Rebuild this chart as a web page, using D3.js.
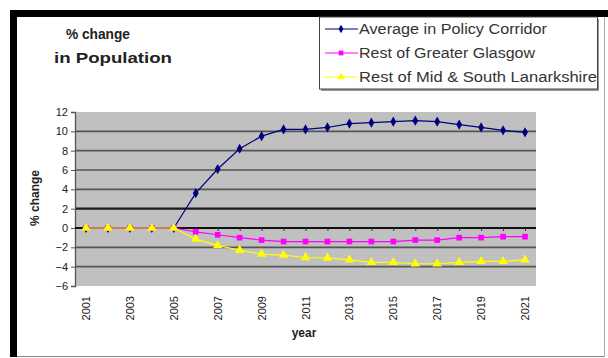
<!DOCTYPE html>
<html><head><meta charset="utf-8">
<script src="https://cdn.jsdelivr.net/npm/d3@7"></script>
<style>body{margin:0;background:#fff}svg{display:block;font-family:"Liberation Sans",Arial,sans-serif}</style>
</head><body><svg id="c" width="608" height="358"></svg>
<script>
const years = d3.range(2001, 2022).map(String);
const tickYears = ["2001","2003","2005","2007","2009","2011","2013","2015","2017","2019","2021"];
const yTicks = [12,10,8,6,4,2,0,-2,-4,-6];
const seriesNames = ["Average in Policy Corridor","Rest of Greater Glasgow","Rest of Mid & South Lanarkshire"];
const policyCorridor = [0,0,0,0,0,3.6,6.1,8.2,9.5,10.2,10.2,10.4,10.8,10.9,11.0,11.1,11.0,10.7,10.4,10.1,9.9];
const restGlasgow = [0,0,0,0,0,-0.4,-0.7,-1.0,-1.25,-1.4,-1.4,-1.4,-1.4,-1.4,-1.4,-1.25,-1.25,-1.0,-1.0,-0.9,-0.9];
const restLanark = [0,0,0,0,0,-1.15,-1.8,-2.3,-2.7,-2.8,-3.05,-3.1,-3.3,-3.55,-3.55,-3.7,-3.7,-3.55,-3.45,-3.45,-3.3];
const colors = ["#000080","#ff00ff","#ffff00"];
const symbols = [d3.symbolDiamond, d3.symbolSquare, d3.symbolTriangle];
const symSizes = [30, 32, 38];
const allSeries = [policyCorridor, restGlasgow, restLanark];

const svg = d3.select("#c");
// frame
svg.append("rect").attr("x",17).attr("y",17).attr("width",587).attr("height",339).attr("fill","#fff");
svg.append("rect").attr("x",10).attr("y",10).attr("width",598).attr("height",7).attr("fill","#000");
svg.append("rect").attr("x",10).attr("y",10).attr("width",7).attr("height",347).attr("fill","#000");
svg.append("line").attr("x1",17).attr("x2",605).attr("y1",356.5).attr("y2",356.5).attr("stroke","#888");
svg.append("line").attr("x1",604.5).attr("x2",604.5).attr("y1",17).attr("y2",357).attr("stroke","#aaa");

const L = 75, R = 536, T = 112, B = 286;
const x = d3.scalePoint().domain(years).range([L, R]).padding(0.5);
const y = d3.scaleLinear().domain([-6, 12]).range([B, T]);

svg.append("rect").attr("x",L).attr("y",T).attr("width",R-L).attr("height",B-T).attr("fill","#c0c0c0");
// gridlines
svg.append("g").selectAll("line").data(yTicks.filter(v => v !== 12 && v !== -6 && v !== 0)).join("line")
  .attr("x1",L).attr("x2",R).attr("y1",d=>y(d)).attr("y2",d=>y(d))
  .attr("stroke",d=> d===2 ? "#1a1a1a" : "#555").attr("stroke-width",d=> d===2 ? 2.2 : 1.6);

// y axis
const yAxis = d3.axisLeft(y).tickValues(yTicks).tickSize(4).tickPadding(3);
const gy = svg.append("g").attr("transform",`translate(${L},0)`).call(yAxis);
gy.select(".domain").attr("stroke","#555").attr("stroke-width",1.3);
gy.selectAll(".tick line").attr("stroke","#555");
gy.selectAll("text").attr("font-size",11).attr("fill","#222").attr("font-family","Liberation Sans, Arial");

// x axis at zero
const xAxis = d3.axisBottom(x).tickValues(years).tickSize(3).tickFormat("");
const gx = svg.append("g").attr("transform",`translate(0,${y(0)})`).call(xAxis);
gx.select(".domain").attr("stroke","#111").attr("stroke-width",2).attr("d",`M${L},0H${R}`);
gx.selectAll(".tick line").attr("stroke","#333");
// x tick labels below plot
svg.append("g").selectAll("text").data(tickYears).join("text")
  .attr("transform",d=>`translate(${x(d)+4},${B+10}) rotate(-90)`)
  .attr("text-anchor","end").attr("font-size",11).attr("fill","#222").text(d=>d);

// series
allSeries.forEach((vals,i)=>{
  const pts = years.map((yr,j)=>({yr, v: vals[j]}));
  svg.append("path").datum(pts).attr("fill","none").attr("stroke",colors[i]).attr("stroke-width",1.2)
    .attr("d", d3.line().x(d=>x(d.yr)).y(d=>y(d.v)));
  svg.append("g").selectAll("path").data(pts).join("path")
    .attr("transform",d=>`translate(${x(d.yr)},${y(d.v)})`)
    .attr("d", d3.symbol(symbols[i], symSizes[i])).attr("fill",colors[i]);
});

// axis titles
svg.append("text").attr("transform","translate(39,198) rotate(-90)").attr("text-anchor","middle")
  .attr("font-size",12).attr("font-weight","bold").attr("fill","#222").text("% change");
svg.append("text").attr("x",304).attr("y",337).attr("text-anchor","middle")
  .attr("font-size",12).attr("font-weight","bold").attr("fill","#222").text("year");

// chart title
svg.append("text").attr("x",66).attr("y",39).attr("font-size",14).attr("font-weight","bold").attr("fill","#222")
  .attr("textLength",64).attr("lengthAdjust","spacingAndGlyphs").text("% change");
svg.append("text").attr("x",54).attr("y",63).attr("font-size",14).attr("font-weight","bold").attr("fill","#222")
  .attr("textLength",118).attr("lengthAdjust","spacingAndGlyphs").text("in Population");

// legend
svg.append("rect").attr("x",321).attr("y",19).attr("width",278).attr("height",72).attr("fill","#999");
svg.append("rect").attr("x",319.5).attr("y",17).attr("width",278).attr("height",72).attr("fill","#fff").attr("stroke","#444");
const legW = [188, 176, 238];
seriesNames.forEach((nm,i)=>{
  const ly = 29 + i*24;
  svg.append("line").attr("x1",325).attr("x2",358).attr("y1",ly).attr("y2",ly).attr("stroke",colors[i]).attr("stroke-width",1.2);
  svg.append("path").attr("transform",`translate(341,${ly})`).attr("d",d3.symbol(symbols[i], symSizes[i]*0.7)).attr("fill",colors[i]);
  svg.append("text").attr("x",359).attr("y",ly+5).attr("font-size",14).attr("fill","#333")
    .attr("textLength",legW[i]).attr("lengthAdjust","spacingAndGlyphs").text(nm);
});
</script></body></html>
